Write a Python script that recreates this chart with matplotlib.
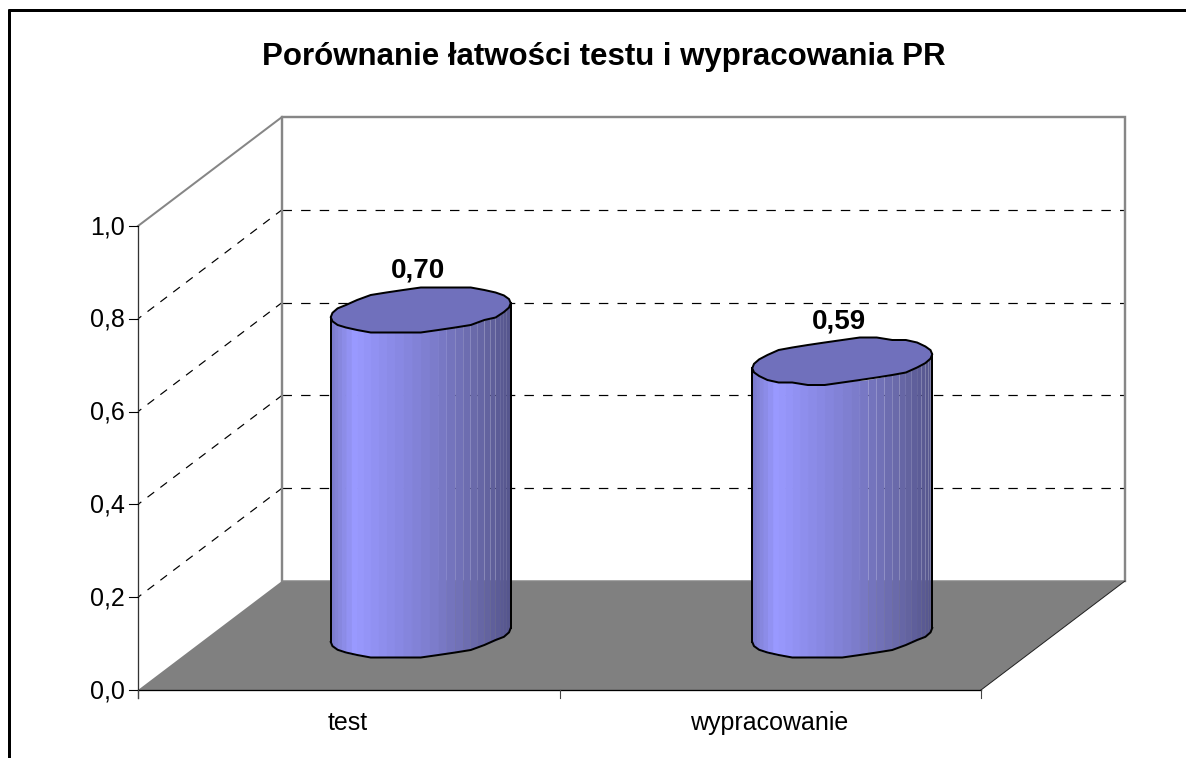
import numpy as np
import matplotlib
matplotlib.use("Agg")
import matplotlib.pyplot as plt
from matplotlib.colors import LinearSegmentedColormap

plt.rcParams['font.family'] = ['Liberation Sans', 'DejaVu Sans']
plt.rcParams['lines.scale_dashes'] = False

title = "Porównanie łatwości testu i wypracowania PR"
categories = ["test", "wypracowanie"]
values = [0.70, 0.59]
value_labels = ["0,70", "0,59"]
yticks = [0.0, 0.2, 0.4, 0.6, 0.8, 1.0]
ytick_labels = ["0,0", "0,2", "0,4", "0,6", "0,8", "1,0"]

W, H = 1186, 758
X0, X_PER_CAT = 138.0, 421.5      # pixel of category 0, pixels per category
Y0, Y_PER_VAL = 690.0, 464.0      # pixel of value 0, pixels per value unit
DX = 144 / X_PER_CAT              # 3-D depth shift, data units
DY = 109 / Y_PER_VAL

fig = plt.figure(figsize=(W / 100, H / 100), dpi=100, facecolor="white")
ax = fig.add_axes([0, 0, 1, 1])
ax.set_xlim(-X0 / X_PER_CAT, (W - X0) / X_PER_CAT)
ax.set_ylim((Y0 - H) / Y_PER_VAL, Y0 / Y_PER_VAL)
ax.axis("off")

WALL = "#868686"
px = 0.72
n = len(categories)
xpx = 1 / X_PER_CAT
ypx = 1 / Y_PER_VAL

# chart-area border (right and bottom sides run off the image)
ax.plot([0.0080, 0.0080], [0, 0.9885], transform=ax.transAxes, color="black", lw=3 * px, clip_on=False, solid_capstyle="butt")
ax.plot([0.0070, 1], [0.9870, 0.9870], transform=ax.transAxes, color="black", lw=3 * px, solid_capstyle="butt")

# floor
ax.fill([0, n, n + DX, DX], [0, 0, DY, DY], color="#808080", lw=0, zorder=1)

# gridlines on back and side walls
top = max(yticks)
for v in yticks[1:-1]:
    ax.plot([DX, n + DX], [v + DY, v + DY], color="black", lw=1.2 * px, ls=(0, (6.8, 6.6)), zorder=2)
    ax.plot([0, DX], [v, v + DY], color="black", lw=1.2 * px, ls=(3, (6, 5.6)), zorder=2)

# walls
ax.plot([DX, DX, n + DX, n + DX], [DY, top + DY, top + DY, DY], color=WALL, lw=2.4 * px, zorder=3, solid_joinstyle="miter")
ax.plot([0, DX], [top, top + DY], color=WALL, lw=2 * px, zorder=3)
ax.plot([DX, n + DX], [DY, DY], color=WALL, lw=1.5 * px, zorder=3)
ax.plot([n, n + DX], [0, DY], color="#222222", lw=1 * px, zorder=3)

# axes
ax.plot([0, 0], [-8 * ypx, top], color="#333333", lw=1.3 * px, zorder=4)
ax.plot([0, n], [0, 0], color="black", lw=1.3 * px, zorder=4)
for v, lab in zip(yticks, ytick_labels):
    ax.plot([-9 * xpx, 0], [v, v], color="black", lw=1.1 * px, zorder=4)
    ax.annotate(lab, (0, v), xytext=(-13 * px, -1 * px), textcoords="offset points",
                ha="right", va="center", fontsize=18, color="black")
for i in range(n + 1):
    ax.plot([i, i], [-8 * ypx, 0], color="#444444", lw=1.1 * px, zorder=4)
for i, lab in enumerate(categories):
    ax.annotate(lab, (i + 0.5, 0), xytext=(-1 * px, -33 * px), textcoords="offset points",
                ha="center", va="center", fontsize=18, color="black")

# cylinders
cmap = LinearSegmentedColormap.from_list(
    "cyl", [(0, "#7a7acc"), (0.04, "#8585dc"), (0.13, "#9999ff"), (0.35, "#8a8ae6"),
            (0.6, "#7a7ac8"), (0.8, "#6a6aaa"), (1, "#55558c")])
A = 90 * xpx
B = 21.7 * ypx
S = 7.0 * ypx
NF = 32
t = np.linspace(0, 2 * np.pi, 2 * NF + 1)


def ring(cx, cy, th):
    return cx + A * np.cos(th), cy - B * np.sin(th) + S * np.cos(th)


def facet(x, y, th):
    """Coarse outline: the reference's ellipses are slightly stepped polygons."""
    grid = 2.5 * ypx
    ys = np.round(y / grid) * grid
    keep = np.abs(np.cos(th)) > 0.88
    ys[keep] = y[keep]
    return x, ys


for i, (v, lab) in enumerate(zip(values, value_labels)):
    cx = i + 0.5 + DX / 2
    cy0 = DY / 2 + 0.5 * ypx
    cy1 = cy0 + v
    front = t[:NF + 1]
    xb, yb = ring(cx, cy0, front)
    xt, yt = ring(cx, cy1, front)
    for k in range(NF):
        f = (0.5 * (xb[k] + xb[k + 1]) - (cx - A)) / (2 * A)
        # left part of the barrel has no visible seams, right part does
        ax.fill([xb[k], xb[k + 1], xt[k + 1], xt[k]], [yb[k], yb[k + 1], yt[k + 1], yt[k]],
                facecolor=cmap(f), edgecolor=cmap(f), lw=(0.8 if f < 0.6 else 0), zorder=5)
    fx, fy = facet(xb[::2], yb[::2], front[::2])
    ax.plot(fx, fy, color="black", lw=2 * px, zorder=6, solid_joinstyle="round")
    ax.plot([xb[0], xt[0]], [yb[0], yt[0]], color="black", lw=2 * px, zorder=6)
    ax.plot([xb[-1], xt[-1]], [yb[-1], yt[-1]], color="black", lw=2 * px, zorder=6)
    xr, yr = ring(cx, cy1, t)
    fx, fy = facet(xr[::2], yr[::2], t[::2])
    ax.fill(fx, fy, facecolor="#7070bc", edgecolor="black", lw=2 * px, zorder=7)
    ax.annotate(lab, (cx, cy1), xytext=(-3 * px, 40 * px), textcoords="offset points",
                ha="center", va="center", fontsize=20, fontweight="bold", color="black", zorder=8)

ax.text(0.509, 1 - 57 / H, title, transform=ax.transAxes, ha="center", va="center",
        fontsize=22.5, fontweight="bold", color="black")

fig.savefig("out.png", dpi=100)
